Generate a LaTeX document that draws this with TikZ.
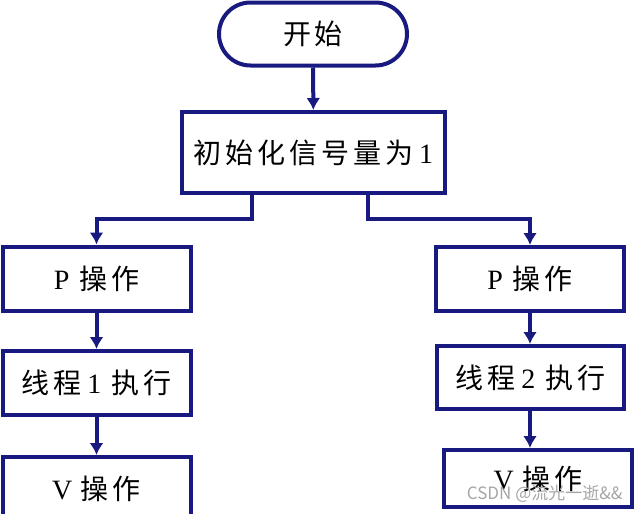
\documentclass[tikz,border=0pt]{standalone}
\usepackage{fontspec}
\setmainfont{Liberation Serif}
\newfontfamily\cjk[LetterSpace=14]{Noto Sans CJK SC}
\newfontfamily\wmfont{Noto Sans CJK SC}
\usetikzlibrary{arrows.meta,shapes.misc}
\definecolor{navy}{RGB}{24,26,128}

\begin{document}
\begin{tikzpicture}[
x=1pt,y=-1pt,
box/.style={
    draw=navy,
    line width=4pt,
    fill=white,
    minimum width=188pt,
    minimum height=64pt,
    inner sep=0pt,
    font=\fontsize{28}{32}\selectfont
},
startbox/.style={
    box,
    rounded rectangle,
    minimum height=63pt
},
arr/.style={
    draw=navy,
    line width=4pt,
    -{Latex[length=12pt,width=14pt]}
},
>=latex
]
\clip (0,0) rectangle (641,514);
\useasboundingbox (0,0) rectangle (641,514);

\node[startbox] (start) at (313,34) {{\cjk 开始}};
\node[box,minimum width=263pt,minimum height=81pt] (init) at (313.5,152.5) {{\cjk 初始化信号量为}\hspace{0.2em}1};

\node[box] (lp) at (96.5,278.5) {P\hspace{0.35em}{\cjk 操作}};
\node[box] (lt) at (96.5,383) {{\cjk 线程}\hspace{0.2em}1\hspace{0.35em}{\cjk 执行}};
\node[box] (lv) at (96.5,489) {V\hspace{0.3em}{\cjk 操作}};

\node[box] (rp) at (530,279) {P\hspace{0.35em}{\cjk 操作}};
\node[box,minimum width=187pt,minimum height=63pt] (rt) at (530.5,377.5) {{\cjk 线程}\hspace{0.2em}2\hspace{0.35em}{\cjk 执行}};
\node[box,minimum height=57pt] (rv) at (538,478.5) {V\hspace{0.3em}{\cjk 操作}};

\coordinate (lb) at (252,193);
\coordinate (lj) at (252,219);
\coordinate (rb) at (368,193);
\coordinate (rj) at (368,219);

\draw[arr] (start) -- (init);
\draw[arr] (lb) -- (lj) -| (lp);
\draw[arr] (rb) -- (rj) -| (rp);
\draw[arr] (lp) -- (lt);
\draw[arr] (lt) -- (lv);
\draw[arr] (rp) -- (rt.north -| rp);
\draw[arr] (rt.south -| rp) -- (rv.north -| rp);

\node[text=gray!70,font=\wmfont\fontsize{17}{20}\selectfont,anchor=east] (wm) at (626,494) {CSDN @流光一逝\&\&};
\end{tikzpicture}
\end{document}
